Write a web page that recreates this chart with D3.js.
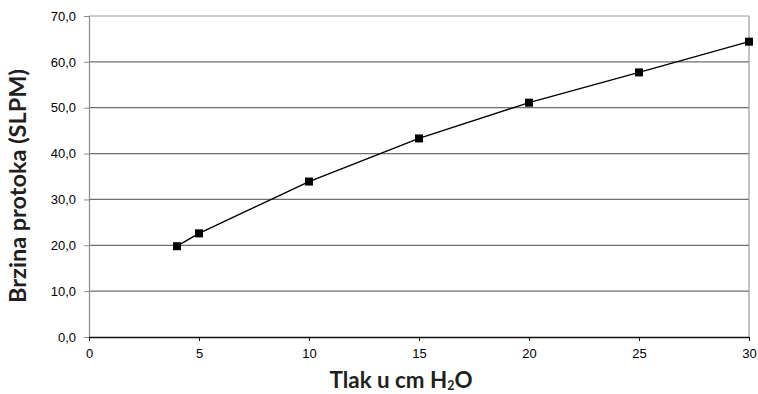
<!DOCTYPE html>
<html>
<head>
<meta charset="utf-8">
<script src="https://cdn.jsdelivr.net/npm/d3@7"></script>
<style>
  body { margin: 0; background: #fff; }
  svg { display: block; font-family: "Liberation Sans", Arial, sans-serif; }
</style>
</head>
<body>
<div id="chart"></div>
<script>
const pressure = [4, 5, 10, 15, 20, 25, 30]
const flow = [19.8, 22.6, 33.9, 43.3, 51.1, 57.7, 64.4]
const xTicks = [0, 5, 10, 15, 20, 25, 30]
const yTicks = [0, 10, 20, 30, 40, 50, 60, 70]

const width = 758, height = 394
const margin = {top: 16, right: 9, bottom: 57, left: 89}

const svg = d3.select('#chart').append('svg')
  .attr('width', width)
  .attr('height', height)

const x = d3.scaleLinear().domain([0, 30]).range([margin.left, width - margin.right])
const y = d3.scaleLinear().domain([0, 70]).range([height - margin.bottom, margin.top])

// grid lines
svg.append('g').selectAll('line')
  .data(yTicks.filter(d => d > 0))
  .enter().append('line')
  .attr('x1', x(0)).attr('x2', x(30))
  .attr('y1', d => y(d)).attr('y2', d => y(d))
  .attr('stroke', d => d === 70 ? '#9a9a9a' : '#6e6e6e')
  .attr('stroke-width', 1.2)

// right border
svg.append('line')
  .attr('x1', x(30)).attr('x2', x(30))
  .attr('y1', y(70)).attr('y2', y(0))
  .attr('stroke', '#9a9a9a').attr('stroke-width', 1.2)

// y axis
const yAxis = d3.axisLeft(y).tickValues(yTicks).tickSize(5).tickPadding(8)
  .tickFormat(d => d3.format('.1f')(d).replace('.', ','))
const gy = svg.append('g').attr('transform', `translate(${x(0)},0)`).call(yAxis)
gy.select('.domain').attr('stroke', '#8a8a8a').attr('stroke-width', 1.2)
gy.selectAll('.tick line').attr('stroke', '#8a8a8a')
gy.selectAll('text').attr('font-size', 13).attr('fill', '#000')

// x axis
const xAxis = d3.axisBottom(x).tickValues(xTicks).tickSize(4).tickPadding(8).tickSizeOuter(0)
const gx = svg.append('g').attr('transform', `translate(0,${y(0)})`).call(xAxis)
gx.select('.domain').attr('stroke', '#111').attr('stroke-width', 1.6)
gx.selectAll('.tick line').attr('stroke', '#111')
gx.selectAll('text').attr('font-size', 13).attr('fill', '#000')

// series line
const pts = pressure.map((p, i) => [p, flow[i]])
svg.append('path')
  .datum(pts)
  .attr('d', d3.line().x(d => x(d[0])).y(d => y(d[1])))
  .attr('fill', 'none')
  .attr('stroke', '#000')
  .attr('stroke-width', 1.4)

const s = 8
svg.append('g').selectAll('rect')
  .data(pts)
  .enter().append('rect')
  .attr('x', d => x(d[0]) - s / 2)
  .attr('y', d => y(d[1]) - s / 2)
  .attr('width', s).attr('height', s)
  .attr('fill', '#000')

// axis titles, sized so their length matches the reference
function fit(sel, target) {
  const len = sel.node().getComputedTextLength()
  const fs = +sel.attr('font-size')
  sel.attr('font-size', fs * target / len)
}

const yt = svg.append('text')
  .attr('transform', 'translate(26,186) rotate(-90)')
  .attr('text-anchor', 'middle')
  .style('font-family', 'Lato, "Open Sans", sans-serif')
  .attr('font-size', 23).attr('font-weight', 'bold')
  .attr('fill', '#231f20')
  .text('Brzina protoka (SLPM)')
fit(yt, 234)

const xt = svg.append('text')
  .attr('x', 401)
  .attr('y', 388)
  .attr('text-anchor', 'middle')
  .style('font-family', 'Lato, "Open Sans", sans-serif')
  .attr('font-size', 23).attr('font-weight', 'bold')
  .attr('fill', '#231f20')
xt.append('tspan').text('Tlak u cm H')
xt.append('tspan').attr('font-size', '0.55em').attr('dy', 2).text('2')
xt.append('tspan').attr('dy', -2).text('O')
fit(xt, 143)
</script>
</body>
</html>
